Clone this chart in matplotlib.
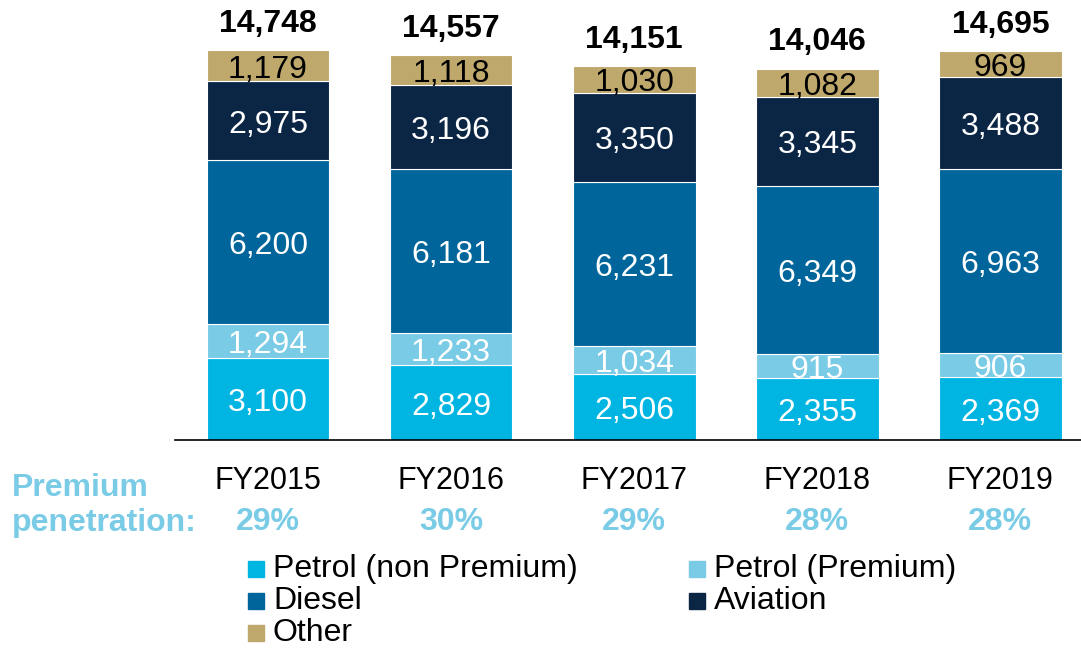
import matplotlib
matplotlib.use("Agg")
import matplotlib.pyplot as plt
from matplotlib.patches import Rectangle

plt.rcParams['font.family'] = ['Liberation Sans', 'DejaVu Sans']

years = ["FY2015", "FY2016", "FY2017", "FY2018", "FY2019"]
petrol_non_premium = [3100, 2829, 2506, 2355, 2369]
petrol_premium = [1294, 1233, 1034, 915, 906]
diesel = [6200, 6181, 6231, 6349, 6963]
aviation = [2975, 3196, 3350, 3345, 3488]
other = [1179, 1118, 1030, 1082, 969]
totals = [14748, 14557, 14151, 14046, 14695]
premium_penetration = ["29%", "30%", "29%", "28%", "28%"]

series_names = ["Petrol (non Premium)", "Petrol (Premium)", "Diesel", "Aviation", "Other"]
series_values = [petrol_non_premium, petrol_premium, diesel, aviation, other]
colors = ["#00B5E2", "#7ACBE6", "#00659A", "#0B2545", "#BFA86B"]
label_colors = ["white", "white", "white", "white", "black"]
light_blue = "#7ACBE6"

W, H = 1081, 650
fig = plt.figure(figsize=(W / 100, H / 100), dpi=100)
ax = fig.add_axes([175 / W, 1 - 440 / H, 1 - 175 / W, 440 / H])

x = list(range(len(years)))
bar_w = 0.67
bottoms = [0] * len(years)
for vals, col, lc in zip(series_values, colors, label_colors):
    ax.bar(x, vals, bar_w, bottom=bottoms, color=col, edgecolor="white", linewidth=0.8)
    for i, v in enumerate(vals):
        ax.annotate(f"{v:,}", (x[i], bottoms[i] + v / 2), xytext=(0, -4),
                    textcoords="offset pixels", ha="center", va="center",
                    color=lc, fontsize=23)
    bottoms = [b + v for b, v in zip(bottoms, vals)]

for i, t in enumerate(totals):
    ax.annotate(f"{t:,}", (x[i], bottoms[i]), xytext=(0, 8), textcoords="offset points",
                ha="center", va="bottom", fontsize=23, fontweight="bold", color="black")

ax.set_xlim(-0.508, 4.44)
ax.set_ylim(0, 16640)
for s in ["top", "right", "left"]:
    ax.spines[s].set_visible(False)
ax.spines["bottom"].set_color("black")
ax.spines["bottom"].set_linewidth(1.2)
ax.set_yticks([])
ax.set_xticks(x)
ax.set_xticklabels(years, fontsize=22)
ax.tick_params(axis="x", length=0, pad=19)

# premium penetration row
for i, p in enumerate(premium_penetration):
    ax.annotate(p, (x[i], 0), xytext=(0, -82), textcoords="offset pixels",
                ha="center", va="center", fontsize=23, fontweight="bold", color=light_blue)
fig.text(12 / W, 1 - 488 / H, "Premium", ha="left", va="center", fontsize=23,
         fontweight="bold", color=light_blue)
fig.text(12 / W, 1 - 523 / H, "penetration:", ha="left", va="center", fontsize=23,
         fontweight="bold", color=light_blue)

# legend
legend_pos = [(253, 569), (694, 569), (253, 601), (694, 601), (253, 633)]
for (lx, ly), name, col in zip(legend_pos, series_names, colors):
    fig.patches.append(Rectangle(((lx - 5) / W, 1 - (ly + 8) / H), 16 / W, 16 / H,
                                 transform=fig.transFigure, color=col))
    fig.text((lx + 20) / W, 1 - ly / H, name, ha="left", va="center", fontsize=23,
             color="black")

fig.savefig("out.png", dpi=100)
